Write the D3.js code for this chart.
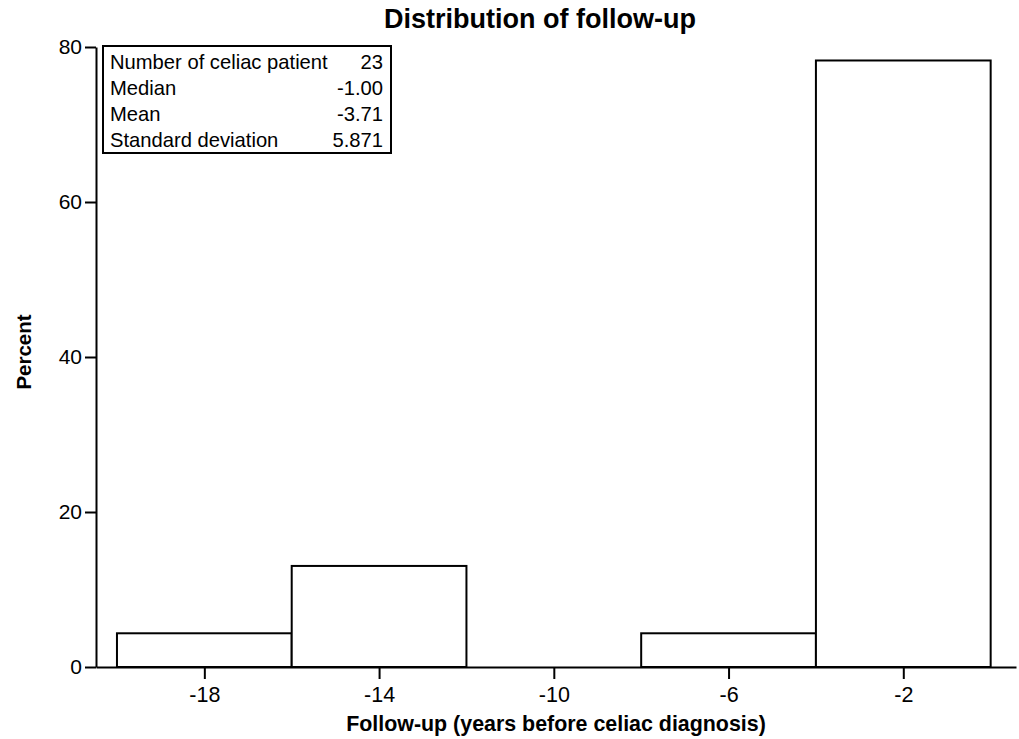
<!DOCTYPE html>
<html><head><meta charset="utf-8">
<script src="https://cdn.jsdelivr.net/npm/d3@7"></script>
<style>body{margin:0;background:#fff;}svg{display:block;}text{font-family:"Liberation Sans",Arial,sans-serif;fill:#000;}</style>
</head><body>
<svg id="c" width="1019" height="739"></svg>
<script>
const binStarts = [-20, -16, -12, -8, -4];
const binWidth = 4;
const percents = [4.35, 13.04, 0, 4.35, 78.26];
const xTicks = [-18, -14, -10, -6, -2];
const yTicks = [0, 20, 40, 60, 80];
const statLabels = ["Number of celiac patient", "Median", "Mean", "Standard deviation"];
const statValues = ["23", "-1.00", "-3.71", "5.871"];

const svg = d3.select("#c");
const x = d3.scaleLinear().domain([-20.48, 0.58]).range([96, 1016]);
const y = d3.scaleLinear().domain([0, 80]).range([667, 47]);

// bars
svg.append("g").selectAll("rect").data(binStarts).join("rect")
  .attr("x", (d) => x(d))
  .attr("width", (d) => x(d + binWidth) - x(d))
  .attr("y", (d, i) => y(percents[i]))
  .attr("height", (d, i) => y(0) - y(percents[i]))
  .attr("fill", "#fff").attr("stroke", "#000").attr("stroke-width", 2);

// x axis
const xa = svg.append("g").attr("transform", `translate(0,${y(0)})`)
  .call(d3.axisBottom(x).tickValues(xTicks).tickSize(12).tickSizeOuter(0).tickPadding(8).tickFormat((d) => String(d)));
xa.select(".domain").attr("stroke-width", 2);
xa.selectAll(".tick line").attr("stroke-width", 2);
xa.selectAll("text").style("font-size", "21.5px");

// y axis
const ya = svg.append("g").attr("transform", `translate(${x.range()[0]},0)`)
  .call(d3.axisLeft(y).tickValues(yTicks).tickSize(11).tickSizeOuter(0).tickPadding(3).tickFormat((d) => String(d)));
ya.select(".domain").attr("stroke-width", 2);
ya.selectAll(".tick line").attr("stroke-width", 2);
ya.selectAll("text").style("font-size", "21px");

// titles
svg.append("text").attr("x", 540).attr("y", 28).attr("text-anchor", "middle")
  .style("font-size", "27px").style("font-weight", "bold").text("Distribution of follow-up");
svg.append("text").attr("x", 556).attr("y", 731).attr("text-anchor", "middle")
  .style("font-size", "21.4px").style("font-weight", "bold").text("Follow-up (years before celiac diagnosis)");
svg.append("text").attr("transform", "translate(31,352) rotate(-90)").attr("text-anchor", "middle")
  .style("font-size", "20.5px").style("font-weight", "bold").text("Percent");

// stats box
const box = svg.append("g");
box.append("rect").attr("x", 103).attr("y", 46).attr("width", 288).attr("height", 107)
  .attr("fill", "#fff").attr("stroke", "#000").attr("stroke-width", 2);
box.selectAll("text.l").data(statLabels).join("text").attr("class", "l")
  .attr("x", 110).attr("y", (d, i) => 69 + i * 25.9).style("font-size", "20.2px").text((d) => d);
box.selectAll("text.v").data(statValues).join("text").attr("class", "v")
  .attr("x", 383).attr("y", (d, i) => 69 + i * 25.9).attr("text-anchor", "end").style("font-size", "20.2px").text((d) => d);
</script>
</body></html>
